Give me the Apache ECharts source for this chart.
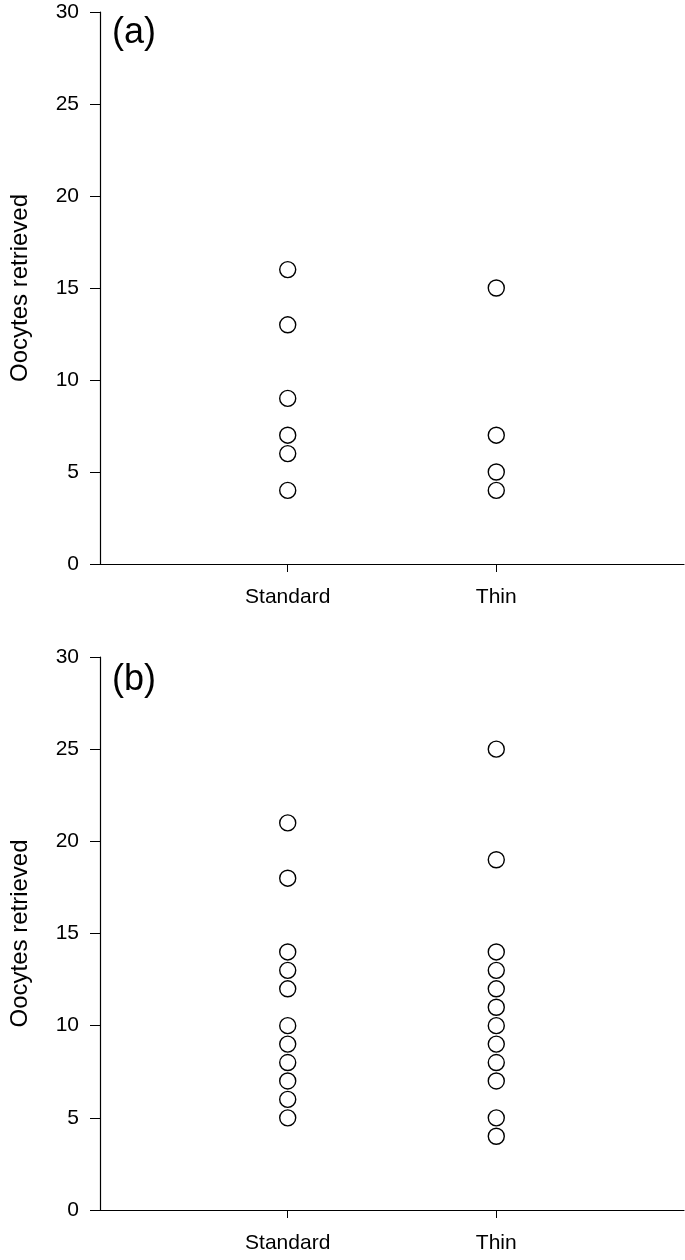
<!DOCTYPE html>
<html>
<head>
<meta charset="utf-8">
<script src="https://cdn.jsdelivr.net/npm/echarts@6/dist/echarts.min.js"></script>
<style>
html,body{margin:0;padding:0;background:#fff;}
#c{width:685px;height:1260px;}
</style>
</head>
<body>
<div id="c"></div>
<script>
// Data
const categories = ['Standard', 'Thin'];
const yTicks = [0, 5, 10, 15, 20, 25, 30];
const panelA_standard = [16, 13, 9, 7, 6, 4];
const panelA_thin = [15, 7, 5, 4];
const panelB_standard = [21, 18, 14, 13, 12, 10, 9, 8, 7, 6, 5];
const panelB_thin = [25, 19, 14, 13, 12, 11, 10, 9, 8, 7, 5, 4];
const panelLabels = ['(a)', '(b)'];
const yTitle = 'Oocytes retrieved';

const FONT = 'Liberation Sans, Arial, Helvetica, sans-serif';

function pts(catIndex, vals) {
  return vals.map(v => [catIndex + 1, v]);
}

const grids = [
  {left: 97, right: 1, top: 12, height: 552},
  {left: 97, right: 1, top: 657, height: 553}
];

function xAx(gi) {
  return {
    type: 'value', gridIndex: gi, min: 0.1, max: 2.9,
    splitLine: {show: false},
    axisLine: {show: true, lineStyle: {color: '#000', width: 1.2}},
    axisTick: {show: true, inside: false, length: 8, customValues: [1, 2], lineStyle: {color: '#000', width: 1}},
    axisLabel: {
      show: true, customValues: [1, 2], margin: 23,
      formatter: v => categories[Math.round(v) - 1] || '',
      color: '#000', fontSize: 21, fontFamily: FONT
    }
  };
}
function yAx(gi) {
  return {
    type: 'value', gridIndex: gi, min: yTicks[0], max: yTicks[yTicks.length - 1], interval: 5,
    splitLine: {show: false},
    axisLine: {show: true, lineStyle: {color: '#000', width: 1.2}},
    axisTick: {show: true, inside: false, length: 10, lineStyle: {color: '#000', width: 1}},
    axisLabel: {color: '#000', fontSize: 21, fontFamily: FONT, margin: 21},
    name: yTitle, nameLocation: 'middle', nameGap: 68, nameRotate: 90,
    nameTextStyle: {color: '#000', fontSize: 24, fontFamily: FONT}
  };
}

const sym = {
  type: 'scatter', symbol: 'circle', symbolSize: 16,
  itemStyle: {color: '#fff', borderColor: '#000', borderWidth: 1.4, opacity: 1},
  emphasis: {disabled: true}
};

const option = {
  animation: false,
  backgroundColor: '#fff',
  grid: grids,
  xAxis: [xAx(0), xAx(1)],
  yAxis: [yAx(0), yAx(1)],
  series: [
    Object.assign({}, sym, {xAxisIndex: 0, yAxisIndex: 0, data: pts(0, panelA_standard)}),
    Object.assign({}, sym, {xAxisIndex: 0, yAxisIndex: 0, data: pts(1, panelA_thin)}),
    Object.assign({}, sym, {xAxisIndex: 1, yAxisIndex: 1, data: pts(0, panelB_standard)}),
    Object.assign({}, sym, {xAxisIndex: 1, yAxisIndex: 1, data: pts(1, panelB_thin)})
  ],
  graphic: [
    {type: 'text', left: 112, top: 15, style: {text: panelLabels[0], font: '36px ' + FONT, fill: '#000'}},
    {type: 'text', left: 112, top: 662, style: {text: panelLabels[1], font: '36px ' + FONT, fill: '#000'}}
  ]
};

const chart = echarts.init(document.getElementById('c'), null, {renderer: 'canvas'});
chart.setOption(option);
</script>
</body>
</html>
